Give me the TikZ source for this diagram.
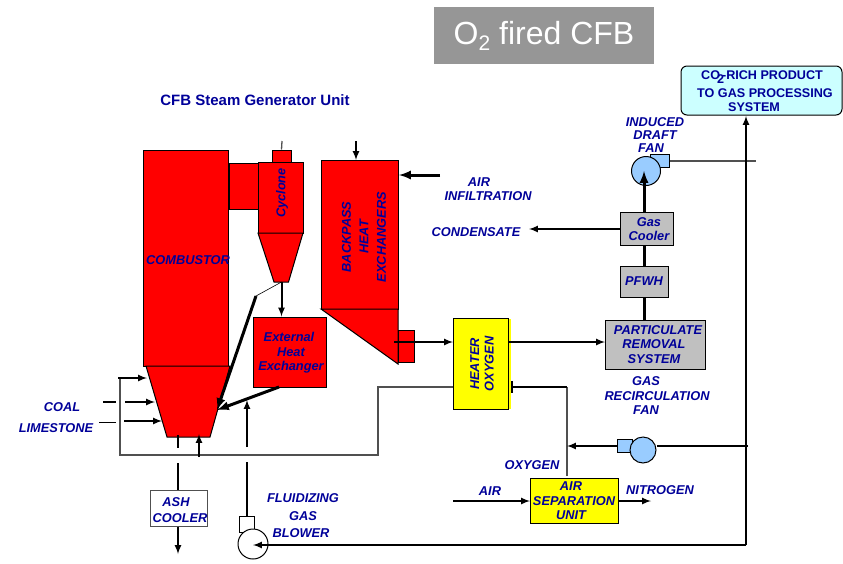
\documentclass[tikz,border=0pt]{standalone}
\usepackage{fontspec}
\setmainfont{Liberation Sans}
\definecolor{cfbred}{RGB}{255,0,0}
\definecolor{cfbyellow}{RGB}{255,255,0}
\definecolor{cfbgray}{RGB}{192,192,192}
\definecolor{cfbblue}{RGB}{0,0,153}
\definecolor{fanblue}{RGB}{153,204,255}
\definecolor{productcyan}{RGB}{204,255,255}
\definecolor{titlegray}{RGB}{150,150,150}
\definecolor{thingray}{RGB}{80,80,80}
\tikzset{
  unitbox/.style={draw,line width=1pt,inner sep=0pt,fill=#1},
  unitbox/.default=cfbred,
  lbl/.style={text=cfbblue,inner sep=0pt,align=center,font=\fontsize{12.8}{14.5}\selectfont\bfseries\itshape},
  pipe/.style={line width=2pt},
  heavypipe/.style={line width=3pt},
  thinpipe/.style={line width=1.3pt,draw=thingray}
}
\begin{document}
\begin{tikzpicture}[x=1pt,y=-1pt,>=latex]
    \useasboundingbox (0,0) rectangle (843,563);
    % title
    \node[fill=titlegray,text=white,minimum width=220pt,minimum height=57pt,inner sep=0pt,font=\fontsize{32}{34}\selectfont] (title) at (544,35.5) {O\raisebox{-6pt}{\fontsize{21}{23}\selectfont 2} fired CFB};
    \node[lbl,font=\fontsize{15}{17}\selectfont\bfseries] (unitname) at (255,100) {CFB Steam Generator Unit};
    % combustor and cyclone
    \node[unitbox,minimum width=29pt,minimum height=46pt] (duct) at (243.5,186) {};
    \node[unitbox,minimum width=85pt,minimum height=216pt] (combustor) at (185.5,258) {};
    \draw[unitbox] (146,366) coordinate (hoptl) -- (230,366) coordinate (hoptr) -- (210,437) coordinate (hopbr) -- (167,437) coordinate (hopbl) -- cycle;
    \node[unitbox,minimum width=19pt,minimum height=12pt] (cap) at (281.5,156) {};
    \node[unitbox,minimum width=45pt,minimum height=71pt] (cyclone) at (280.5,197.5) {};
    \draw[unitbox] (258,233) -- (303,233) -- (288.5,282) coordinate (conebr) -- (274,282) coordinate (conebl) -- cycle;
    \node[lbl,rotate=90] (cyclonetxt) at (282,193) {Cyclone};
    \node[lbl,anchor=west] (combtxt) at (146,260) {COMBUSTOR};
    % backpass
    \node[unitbox,minimum width=77pt,minimum height=149pt] (backpass) at (359.5,234.5) {};
    \draw[unitbox] (321,309) -- (398,309) -- (398,364) -- cycle;
    \node[unitbox,minimum width=16pt,minimum height=32pt] (outlet) at (406,346) {};
    \node[lbl,rotate=90] (backtxt) at (364,237) {BACKPASS\\[3pt]HEAT\\[3pt]EXCHANGERS};
    % external exchanger
    \node[unitbox,minimum width=73pt,minimum height=70pt] (extheat) at (289.5,352) {};
    \node[lbl] (exttxt) at (291,353) {External\hspace*{4pt}\\Heat\hspace*{8pt}\\Exchanger};
    % flue gas train
    \fill[cfbyellow] (453,319) rectangle (511,409);
    \node[unitbox=cfbyellow,minimum width=55pt,minimum height=91pt] (heater) at (480.5,364) {};
    \node[lbl,rotate=90] (heatertxt) at (482,364) {HEATER\\OXYGEN};
    \node[unitbox=cfbgray,minimum width=100pt,minimum height=49pt] (particulate) at (655,344.5) {};
    \node[lbl] (particulatetxt) at (654,344.5) {\hspace*{8pt}PARTICULATE\\REMOVAL\\SYSTEM};
    \node[unitbox=cfbgray,lbl,draw=black,line width=1pt,minimum width=48pt,minimum height=31pt] (pfwh) at (644,281.5) {PFWH};
    \node[unitbox=cfbgray,lbl,draw=black,line width=1pt,minimum width=53pt,minimum height=33pt] (gascooler) at (646.5,229) {\hspace*{5pt}Gas\\\hspace*{5pt}Cooler};
    \node[unitbox=fanblue,minimum width=19pt,minimum height=13pt] (idduct) at (659.5,161) {};
    \node[unitbox=fanblue,circle,minimum size=29pt] (idfan) at (646,171) {};
    \node[unitbox=productcyan,rounded corners=6pt,minimum width=161pt,minimum height=49pt] (product) at (761.5,90.5) {};
    \node[lbl,font=\fontsize{12.6}{15}\selectfont\bfseries] (producttxt) at (765,91.5) {CO\kern-3pt\raisebox{-4pt}{2}\kern-2pt-RICH PRODUCT\hspace*{6pt}\\[3pt]TO GAS PROCESSING\\[-1pt]SYSTEM\hspace*{22pt}};
    % air separation and recirculation
    \node[unitbox=cfbyellow,lbl,draw=black,line width=1pt,minimum width=88pt,minimum height=45pt] (asu) at (574,501) {AIR\hspace*{6pt}\\SEPARATION\\UNIT\hspace*{6pt}};
    \node[unitbox=fanblue,minimum width=15pt,minimum height=13pt] (recduct) at (624.5,446) {};
    \node[unitbox=fanblue,circle,minimum size=26pt] (recfan) at (643,450) {};
    % ash cooler and blower
    \node[unitbox=white,minimum width=57pt,minimum height=36pt,draw=thingray] (ashcooler) at (178.5,508) {};
    \node[lbl] (ashtxt) at (180,510) {ASH\hspace*{8pt}\\[1.5pt]COOLER};
    \node[unitbox=white,minimum width=15pt,minimum height=16pt] (blowerduct) at (246.5,524) {};
    \node[unitbox=white,circle,minimum size=30pt] (blower) at (253,544) {};
    % labels
    \node[lbl] (airtxt) at (488,189) {AIR\hspace*{18pt}\\INFILTRATION};
    \node[lbl] (condtxt) at (476,232) {CONDENSATE};
    \node[lbl] (idtxt) at (655,135) {INDUCED\\[-1pt]DRAFT\hspace*{5pt}\\[-2pt]FAN\hspace*{8pt}};
    \node[lbl] (rectxt) at (657,396) {GAS\hspace*{22pt}\\RECIRCULATION\\FAN\hspace*{22pt}};
    \node[lbl] (oxytxt) at (532,465) {OXYGEN};
    \node[lbl] (asuair) at (490,491) {AIR};
    \node[lbl] (nitrotxt) at (660,490) {NITROGEN};
    \node[lbl] (coaltxt) at (62,407) {COAL};
    \node[lbl] (limetxt) at (56,428) {LIMESTONE};
    \node[lbl] (fluidtxt) at (303,516) {FLUIDIZING\\[3pt]GAS\hspace*{10pt}\\[3pt]BLOWER\hspace*{4pt}};
    % free ends
    \coordinate (captop) at (282,141);
    \coordinate (backin) at (356,141);
    \coordinate (backtop) at (356,160);
    \coordinate (airin) at (440,175);
    \coordinate (airend) at (399,175);
    \coordinate (outstub) at (394,342);
    \coordinate (heatin) at (453,342);
    \coordinate (heatout) at (508,342);
    \coordinate (prsin) at (605,342);
    \coordinate (condend) at (529,229);
    \coordinate (stackend) at (756,161);
    \coordinate (elbow) at (256,296);
    \coordinate (dropin) at (217,410);
    \coordinate (extout) at (279,387);
    \coordinate (returnstart) at (453,387);
    \coordinate (returnup) at (378,455);
    \coordinate (returnleft) at (120,455);
    \coordinate (returnstub) at (118,378);
    \coordinate (hopin) at (147,378);
    \coordinate (coalA) at (103,402);
    \coordinate (coalB) at (116,402);
    \coordinate (coalC) at (125,402);
    \coordinate (coalend) at (155,402);
    \coordinate (limeA) at (99,422);
    \coordinate (limeB) at (116,422);
    \coordinate (limeC) at (124,421);
    \coordinate (limeend) at (162,421);
    \coordinate (ashA) at (178,435);
    \coordinate (ashB) at (178,448);
    \coordinate (ashC) at (178,463);
    \coordinate (ashend) at (178,554);
    \coordinate (gasup) at (199,457);
    \coordinate (gasend) at (199,434);
    \coordinate (blowA) at (247,516);
    \coordinate (blowB) at (247,462);
    \coordinate (blowC) at (247,447);
    \coordinate (blowend) at (247,400);
    \coordinate (maincorner) at (746,545);
    \coordinate (mainend) at (746,116);
    \coordinate (blowerin) at (253,545);
    \coordinate (oxyup) at (567,476);
    \coordinate (oxytee) at (567,387);
    \coordinate (oxyend) at (511,387);
    \coordinate (recstart) at (748,446);
    \coordinate (recend) at (567,446);
    \coordinate (asuin) at (453,501);
    \coordinate (asuleft) at (530,501);
    \coordinate (asuright) at (618,501);
    \coordinate (nitroend) at (651,501);
    % connectors
    \draw[thinpipe] (captop) -- (cap.north);
    \draw[->,pipe] (backin) -- (backtop);
    \draw[->,heavypipe] (airin) -- (airend);
    \draw[->,pipe] (outstub) -- (heatin);
    \draw[->,pipe] (heatout) -- (prsin);
    \draw[heavypipe] (particulate.north -| pfwh) -- (pfwh.south);
    \draw[heavypipe] (pfwh.north) -- (pfwh.north |- gascooler.south);
    \draw[->,heavypipe] (pfwh.north |- gascooler.north) -- (pfwh.north |- idfan.center);
    \draw[->,pipe] (gascooler.west) -- (condend);
    \draw[thinpipe] (idduct.east) -- (stackend);
    \draw[->,pipe] (conebl -| cap) -- (extheat.north -| cap);
    \draw[line width=.6pt] (elbow) -- (conebl -| cap);
    \draw[->,heavypipe] (elbow) -- (dropin);
    \draw[->,heavypipe] (extout) -- (dropin);
    \draw[thinpipe] (returnstart) -| (returnup) -- (returnleft) |- (returnstub);
    \draw[->,pipe] (returnstub) -- (hopin);
    \draw[pipe] (coalA) -- (coalB);
    \draw[->,pipe] (coalC) -- (coalend);
    \draw[line width=.7pt] (limeA) -- (limeB);
    \draw[->,pipe] (limeC) -- (limeend);
    \draw[pipe] (ashA) -- (ashB);
    \draw[pipe] (ashC) -- (ashcooler.north -| ashC);
    \draw[->,pipe] (ashcooler.south -| ashC) -- (ashend);
    \draw[->,pipe] (gasup) -- (gasend);
    \draw[pipe] (blowA) -- (blowB);
    \draw[->,pipe] (blowC) -- (blowend);
    \draw[->,pipe] (maincorner) -- (mainend);
    \draw[->,pipe] (maincorner) -- (blowerin);
    \draw[thinpipe] (oxyup) -- (oxytee);
    \draw[-|,pipe] (oxytee) -- (oxyend);
    \draw[pipe] (recstart) -- (recfan.east |- recstart);
    \draw[->,pipe] (recduct.west) -- (recend);
    \draw[->,pipe] (asuin) -- (asuleft);
    \draw[->,pipe] (asuright) -- (nitroend);
\end{tikzpicture}
\end{document}
